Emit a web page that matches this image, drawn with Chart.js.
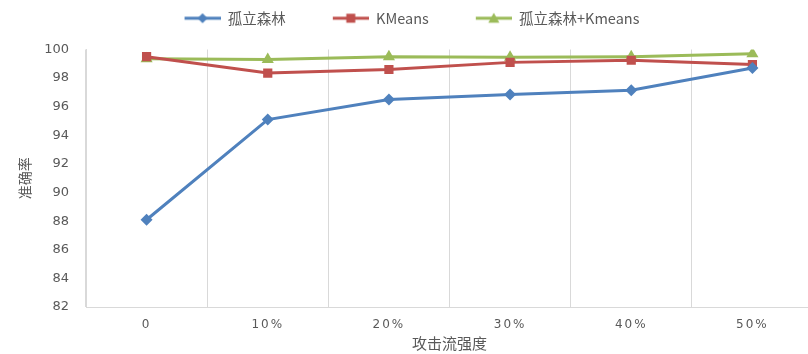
<!DOCTYPE html>
<html>
<head>
<meta charset="utf-8">
<script src="https://cdn.jsdelivr.net/npm/chart.js@4.4.1/dist/chart.umd.min.js"></script>
<style>
  html, body { margin: 0; padding: 0; background: #fff; overflow: hidden; }
  #wrap { width: 820px; height: 354px; }
</style>
</head>
<body>
<div id="wrap"><canvas id="chart" width="820" height="354"></canvas></div>
<script>
const categories = ['0', '10%', '20%', '30%', '40%', '50%'];
const forestValues = [88.1, 95.1, 96.5, 96.85, 97.15, 98.7];
const kmeansValues = [99.5, 98.35, 98.6, 99.1, 99.25, 98.95];
const comboValues = [99.35, 99.3, 99.5, 99.45, 99.5, 99.7];
const yTicks = [82, 84, 86, 88, 90, 92, 94, 96, 98, 100];

const textColor = '#595959';
const gridColor = '#d9d9d9';
const cjkFont = '"Noto Sans CJK SC", "Noto Sans", sans-serif';

// legend swatch: short line with the series marker, blank space on the left keeps items apart
function legendIcon(color, marker) {
    const c = document.createElement('canvas');
    c.width = 72; c.height = 14;
    const g = c.getContext('2d');
    g.strokeStyle = color;
    g.fillStyle = color;
    g.lineWidth = 3;
    g.beginPath(); g.moveTo(36, 7); g.lineTo(72, 7); g.stroke();
    g.beginPath();
    if (marker === 'diamond') {
        g.moveTo(54, 2); g.lineTo(59, 7); g.lineTo(54, 12); g.lineTo(49, 7);
    } else if (marker === 'square') {
        g.rect(49.5, 2.5, 9, 9);
    } else {
        g.moveTo(54, 1.5); g.lineTo(59.5, 11.5); g.lineTo(48.5, 11.5);
    }
    g.closePath(); g.fill();
    return c;
}

const series = [
    { label: '孤立森林', data: forestValues, color: '#4f81bd', style: 'rectRot', radius: 6, marker: 'diamond' },
    { label: 'KMeans', data: kmeansValues, color: '#c0504d', style: 'rect', radius: 6.5, marker: 'square' },
    { label: '孤立森林+Kmeans', data: comboValues, color: '#9bbb59', style: 'triangle', radius: 7, marker: 'triangle' }
];

// extra room under the legend, and nudge it left to offset the first blank swatch margin
const legendGap = {
    id: 'legendGap',
    beforeLayout(chart) {
        const lg = chart.legend;
        if (lg && !lg._gapPatched) {
            const fit = lg.fit;
            lg.fit = function () { fit.call(this); this.height += 14; };
            lg._gapPatched = true;
        }
    },
    afterLayout(chart) {
        if (chart.legend) chart.legend.left -= 32;
    }
};

// spaced-out x tick labels
function spaceLabels(scale) {
    if (scale._spaced) return;
    const draw = scale.drawLabels;
    scale.drawLabels = function (area) {
        const ctx = this.ctx;
        ctx.save();
        ctx.letterSpacing = '2px';
        draw.call(this, area);
        ctx.restore();
    };
    scale._spaced = true;
}

new Chart(document.getElementById('chart'), {
    type: 'line',
    data: {
        labels: categories,
        datasets: series.map(s => ({
            label: s.label,
            data: s.data,
            borderColor: s.color,
            backgroundColor: s.color,
            borderWidth: 3,
            pointStyle: s.style,
            pointRadius: s.radius,
            pointBorderWidth: 0,
            tension: 0,
            legendIcon: legendIcon(s.color, s.marker)
        }))
    },
    plugins: [legendGap],
    options: {
        responsive: false,
        animation: false,
        layout: { padding: { left: 0, right: 0, top: 0, bottom: 0 } },
        plugins: {
            legend: {
                position: 'top',
                labels: {
                    usePointStyle: true,
                    pointStyleWidth: 72,
                    boxHeight: 14,
                    padding: 11,
                    color: textColor,
                    font: { family: cjkFont, size: 14.5 },
                    generateLabels(chart) {
                        return chart.data.datasets.map((ds, i) => ({
                            text: ds.label,
                            fontColor: textColor,
                            pointStyle: ds.legendIcon,
                            datasetIndex: i,
                            hidden: false,
                            lineWidth: 0
                        }));
                    }
                }
            },
            tooltip: { enabled: false }
        },
        scales: {
            x: {
                offset: true,
                grid: { offset: true, color: gridColor, drawTicks: false },
                border: { color: gridColor },
                ticks: {
                    color: textColor,
                    padding: 11,
                    font: { family: '"DejaVu Sans", sans-serif', size: 12 }
                },
                title: {
                    display: true,
                    text: '攻击流强度',
                    color: textColor,
                    padding: { top: 2, bottom: 2 },
                    font: { family: cjkFont, size: 15 }
                },
                afterFit(scale) { scale.height = 47; spaceLabels(scale); }
            },
            y: {
                min: 82,
                max: 100,
                afterBuildTicks(scale) { scale.ticks = yTicks.map(v => ({ value: v })); },
                grid: { color: 'transparent', drawTicks: false },
                border: { display: true, color: gridColor },
                ticks: {
                    color: textColor,
                    padding: 17,
                    font: { family: '"DejaVu Sans", sans-serif', size: 13 }
                },
                title: {
                    display: true,
                    text: '准确率',
                    color: textColor,
                    padding: { top: 16, bottom: 0 },
                    font: { family: cjkFont, size: 14 }
                },
                afterFit(scale) { scale.width = 86; }
            }
        }
    }
});
</script>
</body>
</html>
